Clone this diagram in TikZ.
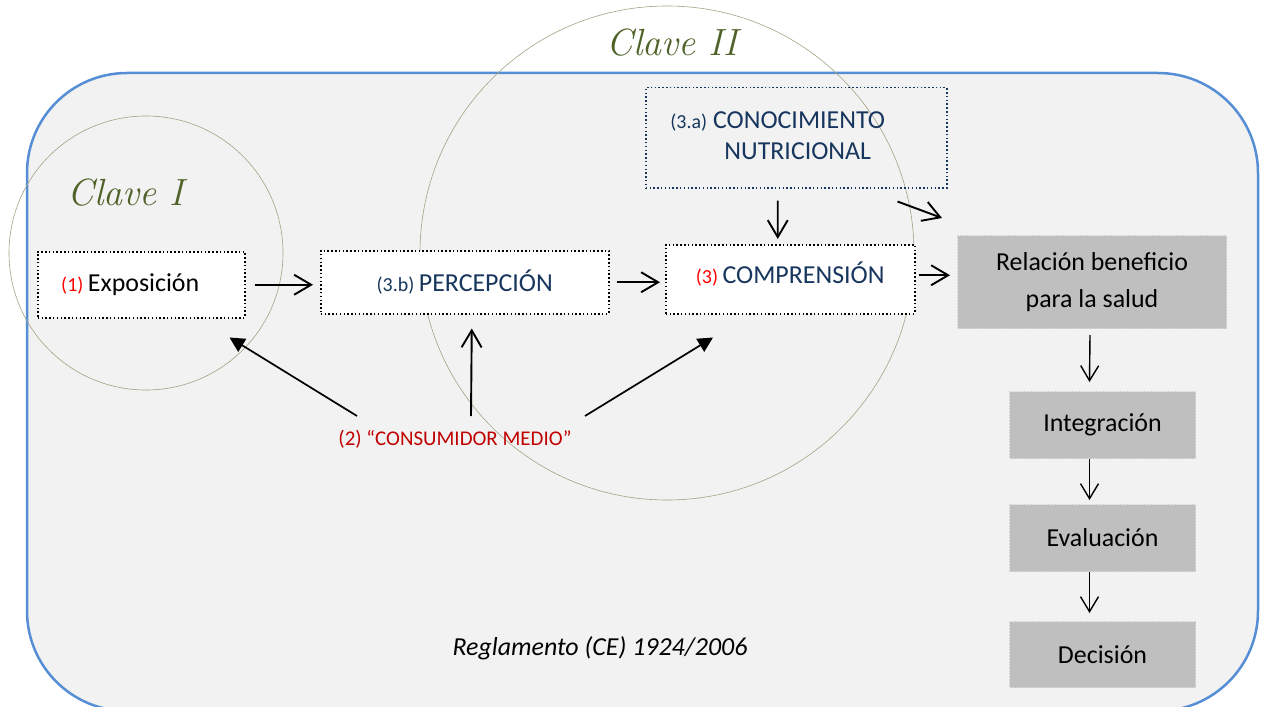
\documentclass[tikz,border=0pt]{standalone}
\usepackage{fontspec}
\setsansfont{Carlito}
\renewcommand{\familydefault}{\sfdefault}
\usetikzlibrary{arrows.meta}

\definecolor{frameblue}{RGB}{85,142,213}
\definecolor{panelgray}{RGB}{242,242,242}
\definecolor{ringgray}{RGB}{165,162,132}
\definecolor{navy}{RGB}{23,54,93}
\definecolor{keyred}{RGB}{255,0,0}
\definecolor{darkred}{RGB}{192,0,0}
\definecolor{olive}{RGB}{79,98,40}
\definecolor{stepgray}{RGB}{191,191,191}
\definecolor{stepedge}{RGB}{214,214,214}

\newcommand{\smallnum}{\fontsize{20}{24}\selectfont}
\newcommand{\bigtext}{\fontsize{26}{31}\selectfont}

\tikzset{
  whitebox/.style={draw=black, fill=white, line width=1.5bp,
    dash pattern=on 1.5bp off 2.3bp, anchor=north west, inner sep=0pt},
  knowbox/.style={draw=navy, line width=1.5bp,
    dash pattern=on 1.5bp off 2.3bp, anchor=north west, inner sep=0pt},
  graybox/.style={fill=stepgray, draw=stepedge, line width=1bp,
    dash pattern=on 2bp off 1bp, anchor=north west, inner sep=0pt,
    font=\fontsize{26}{37}\selectfont, align=center},
  ring/.style={circle, draw=ringgray, line width=0.6bp, inner sep=0pt},
  clave/.style={text=olive, font=\rmfamily\itshape\fontsize{38}{42}\selectfont},
  barb/.style={-{Straight Barb[length=17bp,width=20bp]}, line width=1.9bp},
  thinbarb/.style={-{Straight Barb[length=15bp,width=18bp]}, line width=1.4bp},
  tri/.style={-{Triangle[length=15bp,width=15bp]}, line width=1.7bp},
}

\begin{document}
\begin{tikzpicture}[x=1bp, y=-1bp]
  \useasboundingbox (0,0) rectangle (1261,707);

  % rounded panel
  \begin{scope}
    \clip (0,0) rectangle (1261,707);
    \draw[frameblue, fill=panelgray, line width=2.5bp, rounded corners=100bp]
      (27,73) rectangle (1258,711);
  \end{scope}

  % key circles
  \node[ring, minimum size=274bp] (ring1) at (146,253) {};
  \node[ring, minimum size=494bp] (ring2) at (667,253) {};
  \node[clave] (clave1) at (126,193) {Clave I};
  \node[clave] (clave2) at (672,43) {Clave II};

  % process boxes
  \node[whitebox, minimum width=207bp, minimum height=66bp] (expo) at (37,251)
    {\smallnum\color{keyred}(1) \bigtext\color{black}Exposición\hspace*{22bp}};
  \node[whitebox, minimum width=288bp, minimum height=63bp] (perc) at (320,250)
    {\smallnum\color{navy}(3.b) \bigtext PERCEPCIÓN};
  \node[whitebox, minimum width=249bp, minimum height=69bp] (comp) at (665,244)
    {\raisebox{13bp}{\smallnum\color{keyred}(3) \bigtext\color{navy}COMPRENSIÓN}};
  \node[knowbox, minimum width=301bp, minimum height=100bp, text=navy,
        font=\bigtext] (con) at (645,87)
    {\raisebox{10bp}{\begin{tabular}{@{}l@{}}{\smallnum(3.a)} CONOCIMIENTO\\
      \hspace*{54bp}NUTRICIONAL\end{tabular}}\hspace*{37bp}};

  % decision chain
  \node[graybox, minimum width=269bp, minimum height=93bp] (rel) at (957,235)
    {Relación beneficio\\para la salud};
  \node[graybox, minimum width=186bp, minimum height=67bp] (integ) at (1009,391)
    {Integración};
  \node[graybox, minimum width=186bp, minimum height=67bp] (eval) at (1009,504)
    {Evaluación};
  \node[graybox, minimum width=186bp, minimum height=66bp] (dec) at (1009,621)
    {Decisión};

  % average consumer and regulation
  \node[text=darkred, font=\fontsize{21}{25}\selectfont] (cm) at (455,439)
    {(2) “CONSUMIDOR MEDIO”};
  \node[font=\itshape\fontsize{26}{31}\selectfont] (reg) at (600,648)
    {Reglamento (CE) 1924/2006};

  % main flow
  \draw[barb] ([shift={(9,0)}]expo.east) -- ([shift={(-7,0)}]expo.east -| perc.west);
  \draw[barb] ([shift={(7,0)}]perc.east) -- ([shift={(-5,0)}]perc.east -| comp.west);
  \draw[barb] ([shift={(3,-4)}]comp.east) -- ([shift={(-7,-4)}]comp.east -| rel.west);
  \draw[barb] ([shift={(-18.5,12)}]con.south) -- ([shift={(-12.5,-5)}]comp.north);
  \draw[barb] ([shift={(-50,13)}]con.south east) -- ([shift={(-15,-17)}]rel.north west);

  % consumer influences
  \draw[tri] ([shift={(-98,-23)}]cm.center) -- ([shift={(-16,19)}]expo.south east);
  \draw[barb] ([shift={(16,-23)}]cm.center) -- ([shift={(7,14)}]perc.south);
  \draw[tri] ([shift={(130,-23)}]cm.center) -- ([shift={(48,23)}]comp.south west);

  % decision steps
  \draw[thinbarb] ([shift={(-2,6)}]rel.south) -- ([shift={(-13,-9)}]integ.north);
  \draw[thinbarb] ([shift={(-13,0)}]integ.south) -- ([shift={(-13,-4)}]eval.north);
  \draw[thinbarb] ([shift={(-13,0)}]eval.south) -- ([shift={(-13,-8)}]dec.north);
\end{tikzpicture}
\end{document}
